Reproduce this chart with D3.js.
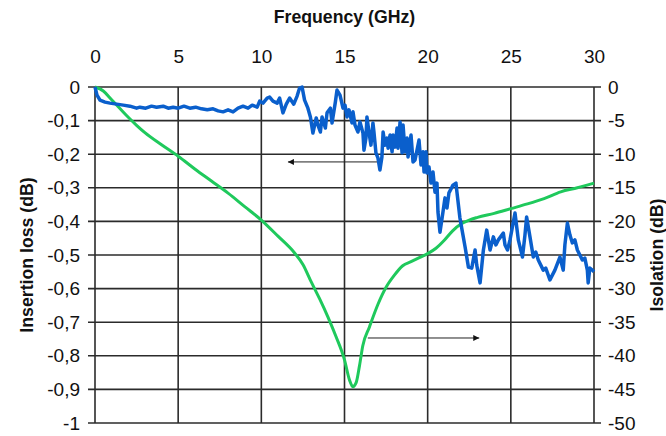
<!DOCTYPE html>
<html>
<head>
<meta charset="utf-8">
<script src="https://d3js.org/d3.v7.min.js"></script>
<style>
  body { margin: 0; background: #fff; }
  text { font-family: "Liberation Sans", Arial, sans-serif; }
</style>
</head>
<body>
<div id="chart"></div>
<script>
// frequency ticks and axis ticks
var freqTicks = [0, 5, 10, 15, 20, 25, 30];
var lossTicks = [0, -0.1, -0.2, -0.3, -0.4, -0.5, -0.6, -0.7, -0.8, -0.9, -1];
var isoTicks = [0, -5, -10, -15, -20, -25, -30, -35, -40, -45, -50];

// insertion loss (blue, left axis) : frequency in GHz, loss in dB
var lossFreq = [0, 0.12, 0.3, 0.6, 0.9, 1.3, 1.7, 2.1, 2.5, 2.7, 3.05, 3.4, 3.7, 4.1, 4.4, 4.7, 5.0, 5.35, 5.7, 6.05,
  6.4, 6.75, 7.1, 7.4, 7.7, 8.0, 8.3, 8.6, 8.9, 9.2, 9.45, 9.75, 9.9, 10.1, 10.35, 10.5, 10.7, 10.95, 11.1, 11.3,
  11.5, 11.7, 11.95, 12.15, 12.3, 12.45, 12.6, 12.8, 12.95, 13.1, 13.3, 13.4, 13.55, 13.65, 13.85, 13.95, 14.15, 14.25, 14.45, 14.55,
  14.73, 14.91, 15.03, 15.15, 15.27, 15.45, 15.51, 15.63, 15.81, 15.93, 16.11, 16.17, 16.29, 16.35, 16.47, 16.59, 16.71, 16.77, 16.89, 17.01,
  17.13, 17.25, 17.32, 17.44, 17.56, 17.62, 17.74, 17.86, 17.92, 18.04, 18.16, 18.22, 18.34, 18.46, 18.52, 18.64, 18.76, 18.82, 19.0, 19.12,
  19.24, 19.36, 19.48, 19.6, 19.72, 19.78, 19.9, 19.96, 20.08, 20.2, 20.32, 20.44, 20.56, 20.62, 20.74, 20.92, 21.04, 21.16, 21.28, 21.46,
  21.52, 21.7, 21.76, 21.94, 22.12, 22.25, 22.45, 22.65, 22.85, 22.95, 23.15, 23.35, 23.55, 23.75, 23.95, 24.1,
  24.25, 24.55, 24.65, 24.8, 24.95, 25.25, 25.45, 25.7, 25.85, 25.95, 26.15, 26.35, 26.5, 26.65, 26.95, 27.1, 27.35, 27.65, 27.95, 28.15,
  28.25, 28.4, 28.55, 28.7, 28.85, 29.0, 29.15, 29.3, 29.45, 29.6, 29.65, 29.75, 29.9, 30];
var lossDb = [0, -0.024, -0.039, -0.045, -0.048, -0.051, -0.054, -0.057, -0.063, -0.06, -0.063, -0.057, -0.06, -0.057, -0.063, -0.06, -0.063, -0.057, -0.063, -0.06,
  -0.065, -0.068, -0.065, -0.071, -0.074, -0.068, -0.074, -0.063, -0.057, -0.063, -0.054, -0.06, -0.042, -0.048, -0.033, -0.03, -0.042, -0.048, -0.033, -0.077,
  -0.051, -0.033, -0.051, -0.027, -0.003, 0, -0.039, -0.063, -0.089, -0.137, -0.092, -0.113, -0.134, -0.089, -0.122, -0.077, -0.063, -0.107, -0.045, -0.009,
  -0.024, -0.063, -0.054, -0.089, -0.068, -0.107, -0.074, -0.113, -0.134, -0.104, -0.137, -0.188, -0.152, -0.089, -0.134, -0.173, -0.107, -0.134, -0.196, -0.211,
  -0.247, -0.208, -0.134, -0.173, -0.152, -0.182, -0.143, -0.193, -0.143, -0.179, -0.122, -0.182, -0.104, -0.196, -0.113, -0.193, -0.152, -0.208, -0.143, -0.223,
  -0.217, -0.188, -0.158, -0.232, -0.193, -0.253, -0.193, -0.256, -0.238, -0.286, -0.253, -0.313, -0.286, -0.372, -0.432, -0.372, -0.33, -0.36, -0.315, -0.298,
  -0.292, -0.286, -0.313, -0.39, -0.44, -0.476, -0.536, -0.539, -0.485, -0.53, -0.583, -0.485, -0.426, -0.485, -0.446, -0.47,
  -0.455, -0.435, -0.47, -0.485, -0.455, -0.375, -0.455, -0.506, -0.44, -0.387, -0.446, -0.506, -0.491, -0.515, -0.545, -0.539, -0.574, -0.545, -0.506, -0.545,
  -0.47, -0.405, -0.44, -0.464, -0.455, -0.485, -0.5, -0.515, -0.509, -0.545, -0.583, -0.539, -0.545, -0.55];

// isolation (green, right axis) : frequency in GHz, isolation in dB
var isoFreq = [0, 0.5, 1, 1.5, 2, 2.5, 3, 4, 5, 6, 7, 8, 9, 10, 11, 12, 12.5, 13, 13.5, 14, 14.5,
  15, 15.3, 15.5, 15.7, 15.9, 16.1, 16.5, 17, 17.5, 18, 18.5, 19, 19.5, 20, 20.5, 21, 21.5, 22, 22.5, 23,
  24, 25, 26, 27, 28, 29, 30];
var isoDb = [0, -0.6, -1.9, -3.2, -4.5, -5.7, -6.8, -8.6, -10.3, -12.2, -14.0, -15.8, -17.8, -19.8, -22.2, -24.7, -26.4, -29.0, -31.5, -34.2, -37.2,
  -40.6, -43.6, -44.6, -44.0, -41.5, -38.5, -35.7, -32.4, -29.8, -28.0, -26.6, -26.0, -25.4, -24.8, -24.0, -22.8, -21.4, -20.4, -19.8, -19.4,
  -18.8, -18.1, -17.4, -16.6, -15.6, -15.0, -14.3];

// arrows : [from, to] in GHz, and the height on the loss axis
var arrowFreq = [[16.95, 11.6], [16.4, 23.1]];
var arrowLoss = [-0.223, -0.747];

var margin = {top: 87, right: 72, bottom: 13, left: 95},
    width = 666 - margin.left - margin.right,
    height = 436 - margin.top - margin.bottom;

var svg = d3.select("#chart")
  .append("svg")
    .attr("width", width + margin.left + margin.right)
    .attr("height", height + margin.top + margin.bottom)
  .append("g")
    .attr("transform", "translate(" + margin.left + "," + margin.top + ")");

var locale = d3.formatLocale({decimal: ",", thousands: ".", grouping: [3], currency: ["", ""], minus: "-"});
var fmt = locale.format("~g");

var x = d3.scaleLinear().domain([0, 30]).range([0, width]);
var y = d3.scaleLinear().domain([-1, 0]).range([height, 0]);
var y2 = d3.scaleLinear().domain([-50, 0]).range([height, 0]);

var gridColor = "#2b2b2b";

// grid
svg.append("g")
  .selectAll("line.v")
  .data(freqTicks)
  .enter().append("line")
    .attr("x1", function(d) { return x(d); })
    .attr("x2", function(d) { return x(d); })
    .attr("y1", 0).attr("y2", height)
    .attr("stroke", gridColor).attr("stroke-width", 1.6);
svg.append("g")
  .selectAll("line.h")
  .data(lossTicks)
  .enter().append("line")
    .attr("x1", -7).attr("x2", width + 7)
    .attr("y1", function(d) { return y(d); })
    .attr("y2", function(d) { return y(d); })
    .attr("stroke", gridColor).attr("stroke-width", 1.6);

// axes (labels only, lines drawn above)
function styleAxis(g) {
  g.select(".domain").remove();
  g.selectAll(".tick line").remove();
  g.selectAll("text").attr("font-size", "19px").attr("fill", "#111");
}

svg.append("g")
  .call(d3.axisTop(x).tickValues(freqTicks).tickSize(0).tickPadding(24).tickFormat(fmt))
  .call(styleAxis);
svg.append("g")
  .call(d3.axisLeft(y).tickValues(lossTicks).tickSize(7).tickPadding(8).tickFormat(fmt))
  .call(styleAxis);
svg.append("g")
  .attr("transform", "translate(" + width + ",0)")
  .call(d3.axisRight(y2).tickValues(isoTicks).tickSize(7).tickPadding(7).tickFormat(fmt))
  .call(styleAxis);

// axis titles
svg.append("text")
  .attr("x", width / 2).attr("y", -64)
  .attr("text-anchor", "middle")
  .attr("font-size", "17.7px").attr("font-weight", "bold").attr("fill", "#111")
  .text("Frequency (GHz)");
svg.append("text")
  .attr("transform", "translate(" + (-62) + "," + (height / 2) + ") rotate(-90)")
  .attr("text-anchor", "middle")
  .attr("font-size", "17.7px").attr("font-weight", "bold").attr("fill", "#111")
  .text("Insertion loss (dB)");
svg.append("text")
  .attr("transform", "translate(" + (width + 69) + "," + (height / 2) + ") rotate(-90)")
  .attr("text-anchor", "middle")
  .attr("font-size", "17.7px").attr("font-weight", "bold").attr("fill", "#111")
  .text("Isolation (dB)");

// lines
var lossLine = d3.line()
  .x(function(d, i) { return x(lossFreq[i]); })
  .y(function(d) { return y(d); });
var isoLine = d3.line()
  .x(function(d, i) { return x(isoFreq[i]); })
  .y(function(d) { return y2(d); })
  .curve(d3.curveMonotoneX);

svg.append("path")
  .datum(isoDb)
  .attr("d", isoLine)
  .attr("fill", "none")
  .attr("stroke", "#1fc95c")
  .attr("stroke-width", 3)
  .attr("stroke-linejoin", "round");

svg.append("path")
  .datum(lossDb)
  .attr("d", lossLine)
  .attr("fill", "none")
  .attr("stroke", "#0a5fcc")
  .attr("stroke-width", 3.5)
  .attr("stroke-linejoin", "round");

// arrows
svg.append("defs").append("marker")
    .attr("id", "head")
    .attr("viewBox", "0 0 10 10")
    .attr("refX", 10).attr("refY", 5)
    .attr("markerWidth", 10).attr("markerHeight", 6)
    .attr("markerUnits", "userSpaceOnUse")
    .attr("orient", "auto")
  .append("path")
    .attr("d", "M0,0L10,5L0,10Z")
    .attr("fill", "#111");

svg.append("g")
  .selectAll("line")
  .data(arrowFreq)
  .enter().append("line")
    .attr("x1", function(d) { return x(d[0]); })
    .attr("x2", function(d) { return x(d[1]); })
    .attr("y1", function(d, i) { return y(arrowLoss[i]); })
    .attr("y2", function(d, i) { return y(arrowLoss[i]); })
    .attr("stroke", "#222").attr("stroke-width", 1)
    .attr("marker-end", "url(#head)");
</script>
</body>
</html>
